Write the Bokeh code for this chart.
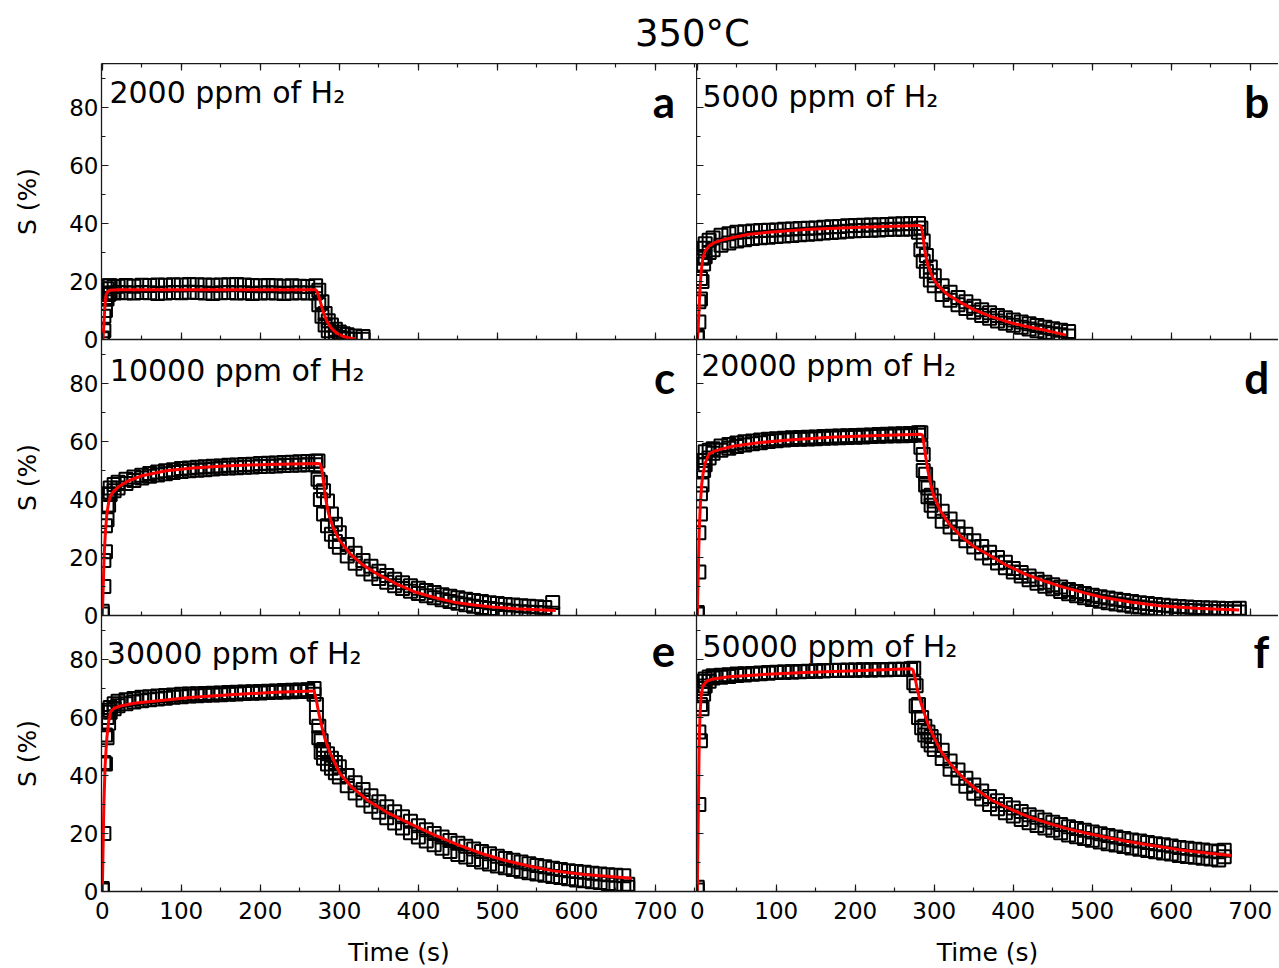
from bokeh.plotting import figure
from bokeh.models import Range1d, LinearAxis, SingleIntervalTicker, Label, Div, CustomJSTickFormatter
from bokeh.layouts import column, row
from bokeh.embed import file_html
from bokeh.resources import INLINE

FONT = "DejaVu Sans"

# ---------------- data ----------------
title_text = "350°C"
conc_labels = ["2000 ppm of H₂", "5000 ppm of H₂", "10000 ppm of H₂",
               "20000 ppm of H₂", "30000 ppm of H₂", "50000 ppm of H₂"]
panel_letters = ["a", "b", "c", "d", "e", "f"]

# panel a
a_time = [0, 2, 4, 6, 8, 10, 15, 20, 30, 40, 50, 60, 70, 80, 90, 100, 110, 120, 130, 140, 150, 160,
          170, 180, 190, 200, 210, 220, 230, 240, 250, 260, 270, 274, 278, 282, 286, 290, 295, 300,
          305, 310, 320, 330]
a_run1 = [0.5, 8, 14, 17.5, 18.5, 18.5, 18.3, 18.4,
          18.6, 18.4, 18.7, 18.6, 18.8, 18.7, 18.9, 18.8, 19.0, 18.9,
          18.8, 18.7, 18.8, 18.9, 19.0, 18.8, 18.6, 18.5, 18.6, 18.5,
          18.4, 18.5, 18.4, 18.3, 18.5,
          17, 13, 9, 6.5, 5, 3.5, 2.6, 2, 1.6, 1.2, 1.0]
a_run2 = [0.3, 3, 10, 14, 15.5, 16, 16, 16.2,
          16.1, 16.0, 16.2, 16.1, 15.9, 16.0, 16.2, 16.1, 16.3, 16.2,
          16.0, 15.9, 16.1, 16.2, 16.0, 16.1, 15.9, 16.0, 16.1, 16.0,
          15.9, 16.0, 16.1, 16.0, 16.0,
          12, 8, 5, 3, 2, 1.2, 0.7, 0.4, 0.2, 0.1, 0.1]
a_fit_time = [0, 1, 2, 3, 4, 5, 7, 10, 20, 100, 200, 270,
              272, 275, 278, 281, 284, 287, 290, 294, 298, 303, 310, 320]
a_fit_s = [0, 0.5, 5, 10, 13.5, 15.5, 16.6, 17.0, 17.2, 17.2, 17.2, 17.2,
           16.5, 14, 11, 8.5, 6.5, 5, 3.9, 2.8, 2.0, 1.3, 0.7, 0.2]

# panel b
b_time = [0, 2, 4, 6, 8, 10, 15, 20,
          30, 40, 50, 60, 70, 80, 90, 100, 110, 120,
          130, 140, 150, 160, 170, 180, 190, 200, 210, 220,
          230, 240, 250, 260, 270, 280,
          283, 286, 290, 295, 300,
          310, 320, 330, 340, 350, 360, 370, 380, 390, 400,
          410, 420, 430, 440, 450, 460, 470]
b_run1 = [1, 13, 21, 28, 31.5, 33, 34.2, 35,
          36, 36.5, 37, 37.2, 37.4, 37.6, 37.7, 37.8, 38, 38.1,
          38.3, 38.4, 38.5, 38.7, 38.9, 39, 39.2, 39.3, 39.4, 39.5,
          39.6, 39.7, 39.8, 39.9, 40, 40,
          38.5, 34, 29, 25, 22,
          18.5, 16.3, 14.5, 13, 11.5, 10.3, 9.2, 8.3, 7.5, 6.7,
          6.0, 5.4, 4.8, 4.2, 3.7, 3.2, 2.8]
b_run2 = [0.5, 6, 14, 20, 26, 28.5, 30, 31,
          32.5, 33.3, 34, 34.4, 34.8, 35.1, 35.3, 35.5, 35.7, 35.9,
          36.1, 36.3, 36.5, 36.7, 36.9, 37.1, 37.3, 37.5, 37.6, 37.7,
          37.8, 37.9, 38, 38, 38.1, 37,
          31, 27, 23.5, 20.5, 18.5,
          15.5, 13.5, 12, 10.7, 9.4, 8.3, 7.3, 6.4, 5.6, 4.9,
          4.2, 3.6, 3.0, 2.5, 2.0, 1.6, 1.2]
b_fit_time = [0, 1, 2, 3, 4, 5, 7, 10, 15, 21, 30, 45, 64, 90, 136, 207, 279, 282, 284, 286,
              288, 292, 298, 305, 317, 333, 350, 372, 398, 420, 445, 467]
b_fit_s = [0, 3, 9, 15, 20, 23.5, 28, 30.5, 32.3, 33.3, 34.2, 35.2, 36.2, 37.0, 37.9, 38.7, 39.3, 39.3, 38.5, 35,
           30.5, 25.5, 21.3, 18.5, 15.5, 12.8, 10.3, 7.9, 5.7, 4.3, 2.9, 1.5]

# panel c
c_time = [0, 2, 4, 6, 8, 10, 15, 20,
          30, 40, 50, 60, 70, 80, 90, 100, 110, 120,
          130, 140, 150, 160, 170, 180, 190, 200, 210, 220,
          230, 240, 250, 260, 270,
          273, 276, 280, 285, 290, 295, 300,
          310, 320, 330, 340, 350, 360, 370, 380, 390, 400,
          410, 420, 430, 440, 450, 460, 470, 480, 490, 500,
          510, 520, 530, 540, 550, 560, 570]
c_run1 = [1.5, 19, 31, 38, 42, 44, 45.2, 46,
          47, 47.8, 48.4, 49, 49.5, 49.9, 50.3, 50.7, 50.9, 51.1,
          51.3, 51.5, 51.6, 51.8, 51.9, 52.1, 52.2, 52.4, 52.5, 52.6,
          52.8, 52.9, 53, 53.1, 53.2,
          53.3, 46, 43, 39.5, 35, 31.5, 28.5,
          24.5, 21.5, 19, 17, 15.3, 13.8, 12.5, 11.3, 10.3, 9.4,
          8.6, 7.9, 7.2, 6.6, 6.1, 5.6, 5.2, 4.8, 4.4, 4.1,
          3.8, 3.6, 3.4, 3.2, 3.0, 2.8, 4.5]
c_run2 = [0.5, 10, 22, 33, 38, 41.7, 43, 44,
          45.5, 46.6, 47.4, 48, 48.5, 48.9, 49.3, 49.7, 49.9, 50.1,
          50.3, 50.5, 50.8, 50.9, 51, 51.1, 51.2, 51.4, 51.5, 51.6,
          51.7, 51.8, 51.9, 52, 52,
          47, 40, 35, 31, 28, 25.5, 23.5,
          20.5, 18, 16, 14.3, 12.8, 11.5, 10.3, 9.3, 8.4, 7.6,
          6.8, 6.1, 5.4, 4.8, 4.2, 3.7, 3.2, 2.8, 2.4, 2.1,
          1.8, 1.5, 1.3, 1.1, 1.0, 0.9, 0.8]
c_fit_time = [0, 1, 2.4, 4, 5.8, 8, 10, 13, 20, 32.5, 50, 81, 115, 154, 210, 273, 276, 278, 280, 282.5,
              286, 292, 300, 314, 330, 348, 370, 397, 420, 445, 470, 494, 530, 574]
c_fit_s = [0, 8, 21, 29, 35, 39, 41, 42.4, 44.3, 46.4, 48.2, 49.9, 50.9, 51.6, 52.1, 52.4, 52.3, 50, 46, 40.7,
           35.5, 30.4, 26, 21.2, 17.4, 14.3, 11.2, 8, 6.2, 4.6, 3.6, 2.9, 2.2, 1.7]

# panel d
d_time = [0, 2, 4, 6, 8, 10, 15, 20,
          30, 40, 50, 60, 70, 80, 90, 100, 110, 120,
          130, 140, 150, 160, 170, 180, 190, 200, 210, 220,
          230, 240, 250, 260, 270, 280,
          283, 286, 289, 292, 296, 300,
          310, 320, 330, 340, 350, 360, 370, 380, 390, 400,
          410, 420, 430, 440, 450, 460, 470, 480, 490, 500,
          510, 520, 530, 540, 550, 560, 570, 580, 590, 600,
          610, 620, 630, 640, 650, 660, 670, 680,
          686]
d_run1 = [1, 28.5, 42, 50, 53.5, 56.5, 57, 57.5,
          58.5, 59, 59.5, 59.9, 60.2, 60.5, 60.8, 61, 61.1, 61.3,
          61.4, 61.5, 61.6, 61.7, 61.8, 61.9, 62, 62.1, 62.2, 62.3,
          62.4, 62.5, 62.6, 62.7, 62.8, 63,
          63, 55.5, 48.7, 44, 41.5, 39.5,
          36, 33.3, 30.5, 28, 25.8, 23.8, 21.8, 20, 18.4, 16.2,
          14.8, 13.6, 12.5, 11.5, 10.6, 9.8, 9.0, 8.3, 7.6, 7.0,
          6.5, 6.0, 5.6, 5.2, 4.8, 4.4, 4.1, 3.8, 3.5, 3.3,
          3.1, 2.9, 2.8, 2.7, 2.6, 2.5, 2.4, 2.3,
          2.5]
d_run2 = [0.5, 15, 35, 45, 50, 52, 54.3, 56,
          57, 57.7, 58.3, 58.8, 59.2, 59.6, 60, 60.3, 60.5, 60.7,
          60.8, 60.9, 61, 61.1, 61.2, 61.3, 61.4, 61.5, 61.6, 61.7,
          61.8, 61.9, 62, 62, 62.1, 62.2,
          58, 50, 45, 41, 38, 36,
          32.5, 30.5, 28.2, 25.8, 23.6, 21.6, 19.8, 18.1, 16.5, 15,
          13.6, 12.3, 11.1, 10.1, 9.2, 8.3, 7.5, 6.8, 6.1, 5.5,
          4.9, 4.4, 4.0, 3.6, 3.2, 2.9, 2.6, 2.3, 2.1, 1.9,
          1.8, 1.7, 1.6, 1.5, 1.4, 1.3, 1.2, 1.2,
          1.2]
d_fit_time = [0, 1, 2.4, 4, 5.5, 7.2, 10, 14.5, 20, 29, 45, 77, 120, 174, 230, 283, 285, 287, 289, 292,
              296, 300, 308, 319, 335, 350, 367, 390, 415, 440, 464, 490, 512, 550, 585, 630, 686]
d_fit_s = [0, 12, 29, 39, 45, 48.7, 52.5, 55.6, 56.5, 57.3, 58.4, 59.6, 60.6, 61.6, 62.1, 62.5, 62.3, 59, 55, 49.9,
           44.5, 40.7, 36, 31.5, 27, 23.8, 21.2, 17.5, 14.3, 11.8, 9.7, 7.8, 6.3, 4.6, 3.4, 2.5, 1.9]

# panel e
e_time = [0, 2, 4, 6, 8, 10, 15, 20,
          30, 40, 50, 60, 70, 80, 90, 100, 110, 120,
          130, 140, 150, 160, 170, 180, 190, 200, 210, 220,
          230, 240, 250, 260,
          268, 271, 274, 277, 280, 285, 290, 295, 300,
          310, 320, 330, 340, 350, 360, 370, 380, 390, 400,
          410, 420, 430, 440, 450, 460, 470, 480, 490, 500,
          510, 520, 530, 540, 550, 560, 570, 580, 590, 600,
          610, 620, 630, 640, 650, 660,
          665]
e_run1 = [1, 44.5, 54, 60, 62.5, 63.5, 64.8, 65.6,
          66.1, 66.6, 67, 67.2, 67.4, 67.6, 67.8, 68, 68.1, 68.2,
          68.3, 68.4, 68.5, 68.6, 68.7, 68.8, 68.9, 69, 69.1, 69.2,
          69.3, 69.4, 69.5, 69.6,
          70, 64.5, 57, 52, 49, 47.5, 46, 44.5, 43,
          40, 37.5, 35.2, 33, 31, 29.2, 27.5, 25.8, 24.2, 22.7,
          21.3, 20, 18.8, 17.6, 16.6, 15.6, 14.7, 13.8, 13, 12.2,
          11.4, 10.8, 10.2, 9.6, 9, 8.5, 8, 7.6, 7.2, 6.9,
          6.6, 6.3, 6.0, 5.8, 5.6, 5.4,
          2.5]
e_run2 = [0.5, 20, 44, 53, 58, 61.8, 63, 64.1,
          64.8, 65.4, 65.8, 66.1, 66.4, 66.7, 67, 67.2, 67.4, 67.5,
          67.7, 67.8, 67.9, 68, 68.1, 68.3, 68.4, 68.5, 68.6, 68.7,
          68.8, 68.9, 69, 69.1,
          68, 60, 53, 48, 46, 44, 42.5, 41, 39.5,
          36.5, 34, 31.6, 29.4, 27.3, 25.4, 23.6, 21.9, 20.3, 18.8,
          17.4, 16.1, 14.9, 13.8, 12.8, 11.9, 11, 10.2, 9.5, 8.8,
          8.2, 7.6, 7, 6.5, 6, 5.6, 5.2, 4.8, 4.4, 4,
          3.7, 3.4, 3.1, 2.8, 2.5, 2.2,
          1.5]
e_fit_time = [0, 1, 2, 3.5, 5, 5.8, 8, 10.5, 15, 22, 40, 74, 110, 162, 220, 266, 268, 271, 274, 278,
              282, 287, 294, 301, 315, 336, 360, 394, 420, 452, 480, 510, 540, 569, 610, 670]
e_fit_s = [0, 15, 30, 43, 50, 53, 58.5, 62, 63.2, 63.9, 64.9, 65.9, 66.9, 67.9, 68.7, 69.2, 69.2, 65.9, 61.5, 56.7,
           52.5, 48.7, 44.5, 40.6, 36.2, 31.4, 27.3, 22.8, 19.5, 15.9, 13.1, 10.7, 8.8, 7.2, 5.9, 4.6]

# panel f
f_time = [0, 2, 4, 6, 8, 10, 15, 20,
          30, 40, 50, 60, 70, 80, 90, 100, 110, 120,
          130, 140, 150, 160, 170, 180, 190, 200, 210, 220,
          230, 240, 250, 260, 270,
          274, 277, 280, 284, 288, 292, 296, 300,
          310, 320, 330, 340, 350, 360, 370, 380, 390, 400,
          410, 420, 430, 440, 450, 460, 470, 480, 490, 500,
          510, 520, 530, 540, 550, 560, 570, 580, 590, 600,
          610, 620, 630, 640, 650, 660,
          667]
f_run1 = [1.5, 55, 64.5, 70, 72.5, 73.3, 74, 74.4,
          74.6, 74.8, 75, 75.1, 75.2, 75.4, 75.5, 75.6, 75.7, 75.8,
          75.9, 76, 76.1, 76.1, 76.2, 76.3, 76.3, 76.4, 76.5, 76.5,
          76.6, 76.6, 76.7, 76.7, 76.8,
          77, 71, 64.5, 60, 57, 55, 53.5, 52,
          48.7, 45, 41.9, 39.1, 36.7, 34.7, 32.8, 31.3, 30, 28.8,
          27.6, 26.5, 25.6, 24.7, 23.9, 23.1, 22.3, 21.7, 21.1, 20.5,
          19.9, 19.3, 18.8, 18.3, 17.8, 17.4, 16.9, 16.5, 16.1, 15.7,
          15.2, 14.9, 14.6, 14.3, 14.0, 13.7,
          14.2]
f_run2 = [0.5, 30, 52, 63, 68, 70.9, 72.5, 73.6,
          73.9, 74.2, 74.5, 74.7, 74.9, 75.1, 75.3, 75.5, 75.6, 75.7,
          75.8, 75.9, 76, 76.1, 76.2, 76.2, 76.3, 76.3, 76.4, 76.4,
          76.5, 76.5, 76.6, 76.6, 76.6,
          72, 64, 60, 56.5, 54, 52, 50.5, 49,
          45.9, 42.2, 39.1, 36.3, 33.9, 31.9, 30, 28.5, 27.2, 26,
          24.8, 23.7, 22.8, 21.9, 21.1, 20.3, 19.5, 18.9, 18.3, 17.7,
          17.1, 16.5, 16, 15.5, 15, 14.6, 14.1, 13.7, 13.3, 12.9,
          12.4, 12.1, 11.8, 11.5, 11.2, 10.9,
          12]
f_fit_time = [0, 1, 2.4, 3.5, 4.8, 7, 11.9, 20, 40, 80, 136, 200, 271, 273, 276, 279, 283, 288, 293, 300,
              307, 316, 326, 340, 355, 374, 398, 421, 445, 469, 493, 517, 540, 564, 590, 612, 645, 676]
f_fit_s = [0, 20, 51.4, 61, 67.4, 70.8, 72.6, 73.3, 74.1, 74.8, 75.5, 76.1, 76.8, 76.5, 73.2, 69, 65.1, 61, 57.1, 53,
           49.1, 45.5, 42.2, 38.3, 34.8, 31.3, 28.2, 25.6, 23.5, 21.6, 20.1, 18.7, 17.5, 16.4, 15.3, 14.3, 13.3, 12.4]

panels = [
    (a_time, a_run1, a_run2, a_fit_time, a_fit_s),
    (b_time, b_run1, b_run2, b_fit_time, b_fit_s),
    (c_time, c_run1, c_run2, c_fit_time, c_fit_s),
    (d_time, d_run1, d_run2, d_fit_time, d_fit_s),
    (e_time, e_run1, e_run2, e_fit_time, e_fit_s),
    (f_time, f_run1, f_run2, f_fit_time, f_fit_s),
]
for i, (t, r1, r2, ft, fs) in enumerate(panels):
    assert len(t) == len(r1) == len(r2), (i, len(t), len(r1), len(r2))
    assert len(ft) == len(fs), (i, len(ft), len(fs))

# label placement (data coordinates)
conc_pos = [(9, 85.2), (6.6, 83.9), (9.5, 84.6), (4.9, 86.3), (5.7, 82.2), (6.6, 84.6)]
letter_y = [82.1, 82.1, 82.4, 82.4, 82.8, 82.8]

# ---------------- drawing ----------------
def style_axis(ax, interval, show_labels, label=None, label_standoff=8, tick_standoff=6):
    ax.ticker = SingleIntervalTicker(interval=interval, num_minor_ticks=2)
    ax.major_tick_in = 7
    ax.major_tick_out = 0
    ax.minor_tick_in = 4
    ax.minor_tick_out = 0
    for attr in ("axis_line_color", "major_tick_line_color", "minor_tick_line_color"):
        setattr(ax, attr, "#1a1a1a")
    ax.axis_line_width = 1.3
    ax.major_tick_line_width = 1.2
    ax.minor_tick_line_width = 1.2
    ax.major_label_text_font = FONT
    ax.major_label_text_color = "black"
    if show_labels:
        ax.major_label_text_font_size = "23px"
        ax.major_label_standoff = tick_standoff
    else:
        ax.formatter = CustomJSTickFormatter(code="return ''")
        ax.major_label_text_font_size = "0px"
        ax.major_label_standoff = 0
    if label:
        ax.axis_label = label
        ax.axis_label_text_font = FONT
        ax.axis_label_text_font_size = "25px"
        ax.axis_label_text_font_style = "normal"
        ax.axis_label_text_color = "black"
        ax.axis_label_standoff = label_standoff


figs = []
for i, (t, r1, r2, ft, fs) in enumerate(panels):
    ri, ci = divmod(i, 2)
    left = ci == 0
    bottom = ri == 2
    top = ri == 0
    fw = 595 if left else 582
    xr = Range1d(-1, 752) if left else Range1d(-1, 735.7)
    if bottom:
        margin = (0, 0, 0, 0) if left else (0, 0, 0, -8)
    else:
        margin = (0, 0, -14, 0)
    p = figure(frame_width=fw, frame_height=276, x_range=xr, y_range=Range1d(0, 95.2),
               output_backend="svg", toolbar_location=None,
               min_border_left=101 if left else (8 if bottom else 0),
               min_border_right=0, min_border_top=0,
               min_border_bottom=0 if bottom else 14,
               border_fill_color=None, background_fill_color=None,
               outline_line_color=None, margin=margin)
    p.grid.visible = False
    style_axis(p.xaxis[0], 100, bottom, "Time (s)" if bottom else None,
               label_standoff=16, tick_standoff=10)
    style_axis(p.yaxis[0], 20, left, "S (%)" if left else None,
               label_standoff=24, tick_standoff=3)
    if top:
        ta = LinearAxis()
        style_axis(ta, 100, False)
        p.add_layout(ta, "above")

    p.scatter(t, r1, marker="square", size=13, line_color="black", fill_color=None, line_width=2)
    p.scatter(t, r2, marker="square", size=13, line_color="black", fill_color=None, line_width=2)
    p.line(ft, fs, line_color="#ff0000", line_width=3)

    cx, cy = conc_pos[i]
    p.add_layout(Label(x=cx, y=cy, text=conc_labels[i], text_font=FONT, text_font_size="30px",
                       text_color="black", text_align="left", text_baseline="alphabetic"))
    p.add_layout(Label(x=725 if left else 724, y=letter_y[i], text=panel_letters[i], text_font="Lato",
                       text_font_style="bold", text_font_size="44px", text_color="black",
                       text_align="right", text_baseline="alphabetic"))
    figs.append(p)

title = Div(text=('<div style="font-family: \'DejaVu Sans\'; font-size: 37px; line-height: 43px; '
                  'padding-left: 635px; padding-top: 12px; color: black; white-space: nowrap;">'
                  + title_text + '</div>'),
            width=1278, height=63, margin=0)

layout = column(title, row(figs[0], figs[1]), row(figs[2], figs[3]), row(figs[4], figs[5]))

open("out.html", "w").write(file_html(layout, INLINE))
